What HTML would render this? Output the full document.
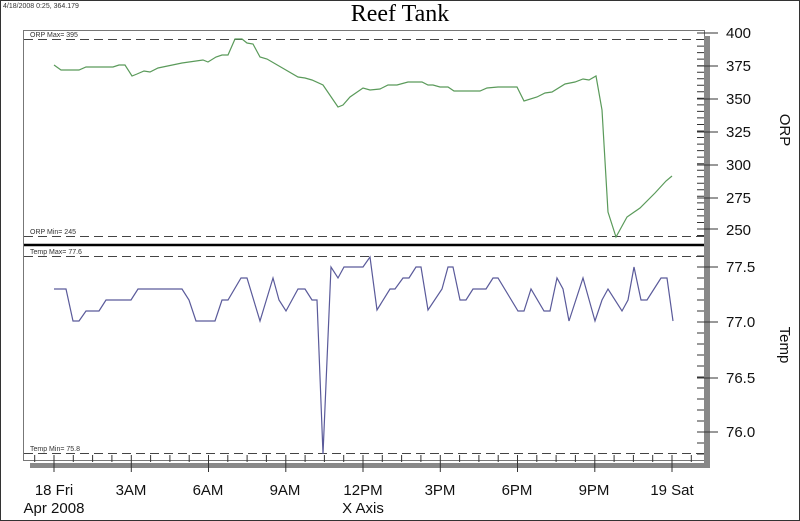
<!DOCTYPE html><html><head><style>body{margin:0;background:#fff}svg{display:block}text{font-family:"Liberation Sans",Arial,sans-serif}</style></head><body>
<svg width="800" height="521" xmlns="http://www.w3.org/2000/svg">
<rect x="0.5" y="0.5" width="799" height="520" fill="#fff" stroke="#333"/>
<text x="3" y="8" font-size="7" fill="#333">4/18/2008 0:25, 364.179</text>
<text x="400" y="21" font-size="24" text-anchor="middle" font-family="Liberation Serif,serif" style="font-family:'Liberation Serif',serif">Reef Tank</text>
<rect x="23.5" y="30.5" width="681" height="430" fill="none" stroke="#777"/>
<rect x="704" y="36" width="6" height="431" fill="#888"/>
<rect x="30" y="463" width="680" height="5" fill="#888"/>
<line x1="24" y1="245" x2="704" y2="245" stroke="#000" stroke-width="2.5"/>
<g stroke="#444" stroke-dasharray="9,5" stroke-width="1">
<line x1="24" y1="39.5" x2="704" y2="39.5"/><line x1="24" y1="236.5" x2="704" y2="236.5"/>
<line x1="24" y1="256.5" x2="704" y2="256.5"/><line x1="24" y1="453.5" x2="704" y2="453.5"/>
</g>
<g font-size="7" fill="#333"><text x="30" y="37">ORP Max= 395</text><text x="30" y="234">ORP Min= 245</text><text x="30" y="254">Temp Max= 77.6</text><text x="30" y="451">Temp Min= 75.8</text></g>
<g stroke="#333" id="ticks"></g>
<g font-size="15" fill="#111">
<text x="726" y="38">400</text><text x="726" y="71">375</text><text x="726" y="104">350</text><text x="726" y="137">325</text><text x="726" y="170">300</text><text x="726" y="203">275</text><text x="726" y="235">250</text>
<text x="726" y="272">77.5</text><text x="726" y="327">77.0</text><text x="726" y="383">76.5</text><text x="726" y="437">76.0</text>
<text transform="translate(780,130) rotate(90)" text-anchor="middle">ORP</text>
<text transform="translate(780,345) rotate(90)" text-anchor="middle">Temp</text>
<g text-anchor="middle">
<text x="54" y="495">18 Fri</text><text x="54" y="513">Apr 2008</text><text x="131" y="495">3AM</text><text x="208" y="495">6AM</text><text x="285" y="495">9AM</text><text x="363" y="495">12PM</text><text x="363" y="513">X Axis</text><text x="440" y="495">3PM</text><text x="517" y="495">6PM</text><text x="594" y="495">9PM</text><text x="672" y="495">19 Sat</text></g>
</g>
<path d="M54,65 L61,70 L79,70 L86,67 L113,67 L119,65 L125,65 L132,76 L137,74 L144,71 L150,72 L158,68 L182,63 L203,60 L208,62 L216,57 L222,55 L228,55 L235,39 L242,39 L247,43 L253,44 L260,57 L267,59 L298,77 L305,78 L312,80 L323,85 L338,107 L343,105 L350,97 L363,88 L370,90 L380,89 L388,85 L397,85 L408,82 L422,82 L428,85 L433,85 L440,87 L448,87 L454,91 L480,91 L487,88 L498,87 L517,87 L524,101 L537,97 L545,93 L552,92 L565,84 L575,82 L583,79 L589,80 L596,76 L602,110 L608,212 L616,237 L627,217 L640,208 L655,193 L666,181 L672,176" fill="none" stroke="#5a9a5a" stroke-width="1.2"/>
<path d="M54,289 L66,289 L73,321 L79,321 L86,311 L99,311 L106,300 L131,300 L138,289 L182,289 L189,300 L196,321 L215,321 L222,300 L228,300 L241,278 L247,278 L260,321 L273,278 L279,300 L286,311 L298,289 L305,289 L312,300 L317,300 L323,454 L331,267 L338,278 L344,267 L363,267 L370,257 L377,310 L390,289 L395,289 L403,278 L409,278 L416,267 L421,267 L428,310 L442,289 L448,267 L453,267 L460,300 L466,300 L473,289 L486,289 L493,278 L498,278 L518,311 L524,311 L531,289 L544,311 L550,311 L557,278 L563,289 L569,321 L583,278 L595,321 L602,300 L608,289 L622,311 L628,300 L634,267 L641,300 L647,300 L661,278 L667,278 L673,321" fill="none" stroke="#5a5a9a" stroke-width="1.2"/>
<g stroke="#333" stroke-width="1">
<path d="M697,33H718M697,66H718M697,99H718M697,132H718M697,165H718M697,198H718M697,229H718M697,267H718M697,322H718M697,378H718M697,432H718"/>
<path id="mn"/>
</g>
<script>
var d='';
for(var v=245;v<=400;v+=5){var y=33+(400-v)*196/150;d+='M697,'+y.toFixed(1)+'H704';}
for(var t=75.8;t<=77.61;t+=0.1){var y=322-(t-77)*110;d+='M697,'+y.toFixed(1)+'H704';}
for(var i=-1;i<=34;i++){var x=54+i*77.25/4;if(x>24&&x<704)d+='M'+x.toFixed(1)+',455V'+(i%4==0?'472':'462');}
document.getElementById('mn').setAttribute('d',d);
</script>
</svg></body></html>
